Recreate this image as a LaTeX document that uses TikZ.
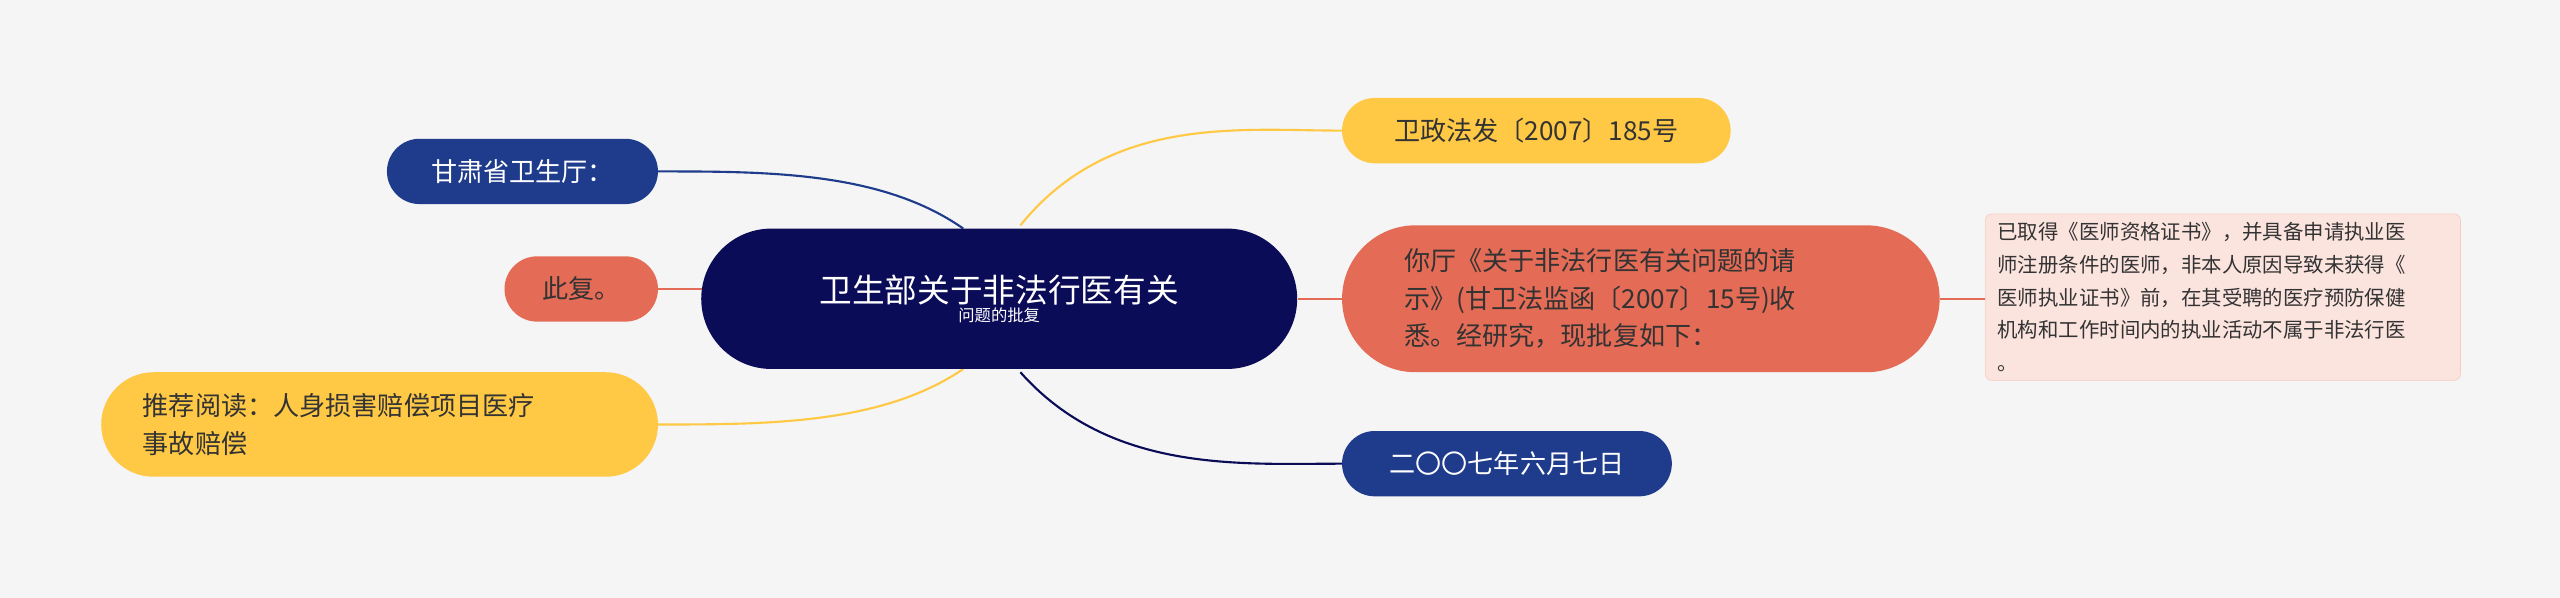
\documentclass[tikz,border=0pt]{standalone}
\usepackage{fontspec}
\setmainfont{Noto Sans CJK SC}
\begin{document}
\begin{tikzpicture}[x=1pt,y=-1pt,
  box/.style={rounded corners=#1, inner sep=0pt, align=left, anchor=north west},
  navyc/.style={fill=nv, text=white},
  yel/.style={fill=yl, text=tx},
  org/.style={fill=og, text=tx},
  ln/.style={line width=1.3pt}]
\definecolor{bg}{HTML}{F5F5F5}
\definecolor{cn}{HTML}{0B0C58}
\definecolor{nv}{HTML}{1F3C8C}
\definecolor{yl}{HTML}{FFC845}
\definecolor{og}{HTML}{E46B55}
\definecolor{tx}{HTML}{333333}
\definecolor{nt}{HTML}{FBE3DE}
\fill[bg] (0,0) rectangle (1568,366);
\useasboundingbox (0,0) rectangle (1568,366);
% connectors
\draw[ln,yl] (625,138) .. controls (680,70) and (760,80) .. (822,80);
\draw[ln,cn] (625,228) .. controls (680,290) and (760,284) .. (822,284);
\draw[ln,nv] (590,140) .. controls (540,105) and (470,105) .. (403,105);
\draw[ln,yl] (590,226) .. controls (540,260) and (470,260) .. (403,260);
\draw[ln,og] (430,177) -- (403,177);
\draw[ln,og] (795,183) -- (822,183);
\draw[ln,og] (1188,183) -- (1216,183);
% nodes
\node[box=43pt, fill=cn, text=white, minimum width=365pt, minimum height=86pt, align=center, anchor=center] (c) at (612,183)
 {\fontsize{20}{27}\selectfont 卫生部关于非法行医有关\\问题的批复};
\node[box=20pt, yel, minimum width=238pt, minimum height=40pt, align=center, anchor=center] (a) at (941,80)
 {\fontsize{16}{20}\selectfont 卫政法发〔2007〕185号};
\node[box=45pt, org, minimum width=366pt, minimum height=90pt, anchor=center] (b) at (1005,183)
 {\fontsize{16}{23}\selectfont\parbox{290pt}{你厅《关于非法行医有关问题的请\\示》(甘卫法监函〔2007〕15号)收\\悉。经研究，现批复如下：}};
\node[box=20pt, navyc, minimum width=202pt, minimum height=40pt, align=center, anchor=center] (d) at (923,284)
 {\fontsize{16}{20}\selectfont 二〇〇七年六月七日};
\node[box=4pt, fill=nt, draw=nt!80!og, line width=0.4pt, minimum width=291pt, minimum height=102pt, anchor=center] (n) at (1361.5,182)
 {\fontsize{12.5}{20}\selectfont\color{tx}\parbox{276pt}{已取得《医师资格证书》，并具备申请执业医\\师注册条件的医师，非本人原因导致未获得《\\医师执业证书》前，在其受聘的医疗预防保健\\机构和工作时间内的执业活动不属于非法行医\\。}};
\node[box=20pt, navyc, minimum width=166pt, minimum height=40pt, align=center, anchor=center] (e) at (320,105)
 {\fontsize{16}{20}\selectfont 甘肃省卫生厅：};
\node[box=20pt, org, minimum width=94pt, minimum height=40pt, align=center, anchor=center] (f) at (356,177)
 {\fontsize{16}{20}\selectfont 此复。};
\node[box=32pt, yel, minimum width=341pt, minimum height=64pt, anchor=center] (g) at (232.5,260)
 {\fontsize{16}{23}\selectfont\parbox{290pt}{推荐阅读：人身损害赔偿项目医疗\\事故赔偿}};
\end{tikzpicture}
\end{document}
